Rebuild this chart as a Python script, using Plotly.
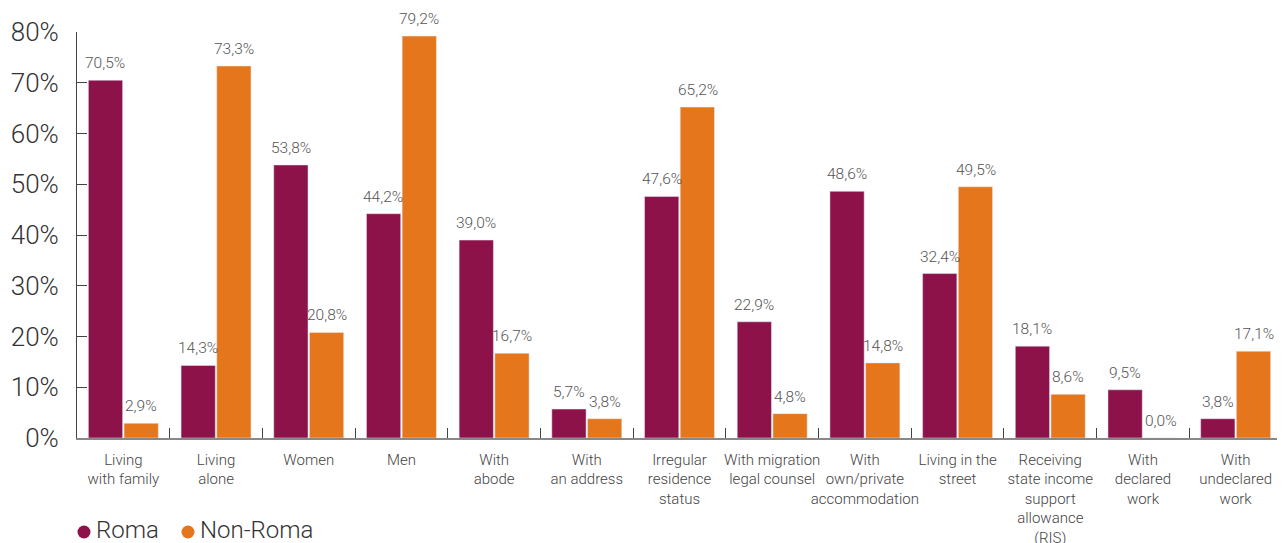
import plotly.graph_objects as go

categories = [
    "Living<br>with family", "Living<br>alone", "Women", "Men", "With<br>abode",
    "With<br>an address", "Irregular<br>residence<br>status", "With migration<br>legal counsel",
    "With<br>own/private<br>accommodation", "Living in the<br>street",
    "Receiving<br>state income<br>support<br>allowance<br>(RIS)", "With<br>declared<br>work",
    "With<br>undeclared<br>work",
]
roma = [70.5, 14.3, 53.8, 44.2, 39.0, 5.7, 47.6, 22.9, 48.6, 32.4, 18.1, 9.5, 3.8]
non_roma = [2.9, 73.3, 20.8, 79.2, 16.7, 3.8, 65.2, 4.8, 14.8, 49.5, 8.6, 0.0, 17.1]
series_names = ["Roma", "Non-Roma"]
y_ticks = [0, 10, 20, 30, 40, 50, 60, 70, 80]

ROMA_C = "#8C1249"
NON_C = "#E5761B"
FONT = "Roboto"

def fmt(v):
    return f"{v:.1f}".replace(".", ",") + "%"

fig = go.Figure()
fig.add_trace(go.Bar(x=categories, y=roma, marker_color=ROMA_C, name=series_names[0],
                     showlegend=False))
fig.add_trace(go.Bar(x=categories, y=non_roma, marker_color=NON_C, name=series_names[1],
                     showlegend=False))

for cat, v in zip(categories, roma):
    fig.add_annotation(x=cat, y=v, text=fmt(v), showarrow=False, xshift=-18,
                       yanchor="bottom", yshift=6,
                       font=dict(size=15.5, color="#555555", family=FONT, weight=300))
for cat, v in zip(categories, non_roma):
    fig.add_annotation(x=cat, y=v, text=fmt(v), showarrow=False, xshift=18,
                       yanchor="bottom", yshift=6,
                       font=dict(size=15.5, color="#555555", family=FONT, weight=300))

# legend: coloured dots (shapes) + text
legend_items = [(series_names[0], ROMA_C, 0.0058, 0.0145),
                (series_names[1], NON_C, 0.0921, 0.1005)]
for name, col, dot_x, txt_x in legend_items:
    fig.add_shape(type="circle", xref="paper", yref="paper",
                  xsizemode="pixel", ysizemode="pixel",
                  xanchor=dot_x, yanchor=-0.2315,
                  x0=-6.5, x1=6.5, y0=-6.5, y1=6.5,
                  fillcolor=col, line=dict(width=0))
    fig.add_annotation(
        xref="paper", yref="paper", x=txt_x, y=-0.227, xanchor="left", yanchor="middle",
        showarrow=False, text=name,
        font=dict(size=24, color="#333333", family=FONT, weight=300),
    )

fig.update_layout(
    width=1277, height=535,
    margin=dict(l=69, r=3, t=24, b=105, autoexpand=False),
    paper_bgcolor="white", plot_bgcolor="white",
    barmode="group", bargap=0.23, bargroupgap=0.04,
    font=dict(family=FONT, color="#444444", weight=300),
    showlegend=False,
)
fig.update_xaxes(
    type="category", tickson="boundaries", ticks="inside", ticklen=10,
    tickcolor="#444444", showline=True, linecolor="#888888", linewidth=1.5,
    tickangle=0, automargin=False, ticklabelstandoff=7,
    tickfont=dict(size=15, color="#444444", family=FONT, weight=300), showgrid=False,
)
fig.update_yaxes(
    range=[0, 80], tickvals=y_ticks, ticktext=[f"{v}%" for v in y_ticks],
    ticks="inside", ticklen=10, tickcolor="#444444", showline=True, linecolor="#444444",
    linewidth=1, automargin=False, ticklabelstandoff=12,
    tickfont=dict(size=26, color="#333333", family=FONT, weight=300),
    showgrid=False, zeroline=False,
)

fig.write_html("out.html")
